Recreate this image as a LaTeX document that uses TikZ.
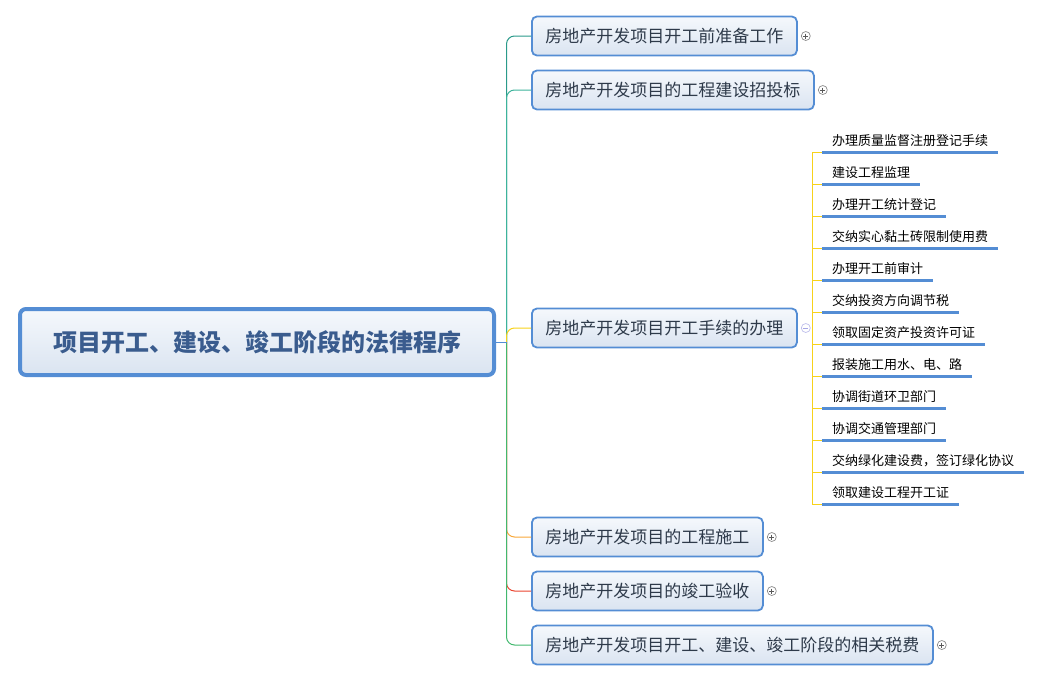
\documentclass[tikz,border=0pt]{standalone}
\usepackage{fontspec}
\newfontfamily\cjk{Noto Sans CJK SC}
\usetikzlibrary{positioning,calc}

\definecolor{boxline}{HTML}{548DD4}
\definecolor{boxtop}{HTML}{F5F8FC}
\definecolor{boxbot}{HTML}{DAE4F1}
\definecolor{roottext}{HTML}{3A5C8E}
\definecolor{branchtext}{HTML}{2E3A4A}
\definecolor{linea}{HTML}{2A9A8A}
\definecolor{lineb}{HTML}{3DB39B}
\definecolor{linec}{HTML}{F7D21A}
\definecolor{lined}{HTML}{F8A83A}
\definecolor{linee}{HTML}{EA4530}
\definecolor{linef}{HTML}{42B86E}

\def\leafsep{32}

\begin{document}
\begin{tikzpicture}[x=1pt,y=-1pt]
    \tikzstyle{root}=[draw=boxline,line width=4pt,rounded corners=6pt,top color=boxtop,bottom color=boxbot,
        minimum width=474,minimum height=66,text=roottext,font=\cjk\bfseries\fontsize{24}{28}\selectfont]
    \tikzstyle{branch}=[draw=boxline,line width=1.8pt,rounded corners=5pt,top color=boxtop,bottom color=boxbot,
        anchor=west,inner xsep=13.5,minimum height=39,text=branchtext,font=\cjk\fontsize{17}{20}\selectfont]
    \tikzstyle{leaf}=[anchor=south west,inner xsep=10,inner ysep=0,minimum height=22.5,font=\cjk\fontsize{13}{15}\selectfont]
    \tikzstyle{underline}=[draw=boxline,line width=3pt]
    \tikzstyle{link}=[line width=1pt,rounded corners=8pt]
    \tikzstyle{expander}=[circle,draw=black!45,fill=white,minimum size=9,inner sep=0,line width=0.7pt,
        path picture={\draw[black!65,line width=0.8pt] ([xshift=2]path picture bounding box.west) -- ([xshift=-2]path picture bounding box.east)
            ([yshift=-2]path picture bounding box.north) -- ([yshift=2]path picture bounding box.south);}]
    \tikzstyle{collapser}=[circle,draw=black!30!blue!25,fill=white,minimum size=9,inner sep=0,line width=0.7pt,
        path picture={\draw[black!30!blue!35,line width=0.8pt] ([xshift=2]path picture bounding box.west) -- ([xshift=-2]path picture bounding box.east);}]

    \useasboundingbox (0,0) rectangle (1044,683);

    % Draw the central topic
    \node[root] (R) at (257,342) {项目开工、建设、竣工阶段的法律程序};
    \coordinate (J) at ($(R.east)+(10.5,0)$);

    % Draw the main branches
    \node[branch] (B-1) at (531,36) {房地产开发项目开工前准备工作};
    \node[branch] (B-2) at (531,90) {房地产开发项目的工程建设招投标};
    \node[branch] (B-3) at (531,328) {房地产开发项目开工手续的办理};
    \node[branch] (B-4) at (531,537) {房地产开发项目的工程施工};
    \node[branch] (B-5) at (531,591) {房地产开发项目的竣工验收};
    \node[branch] (B-6) at (531,645) {房地产开发项目开工、建设、竣工阶段的相关税费};

    % Connect the central topic with every branch
    \draw[link,linea] (J) |- (B-1.west);
    \draw[link,lineb] (J) |- (B-2.west);
    \draw[link,linec] (J) |- (B-3.west);
    \draw[link,lined] (J) |- (B-4.west);
    \draw[link,linee] (J) |- (B-5.west);
    \draw[link,linef] (J) |- (B-6.west);
    \draw[boxline,line width=1pt] (R.east) -- (J);

    % Draw the folded markers
    \foreach \name in {1,2,4,5,6}
        \node[expander] (P-\name) at ($(B-\name.east)+(8,0)$) {};
    \node[collapser] (P-3) at ($(B-3.east)+(8,0)$) {};

    % Draw the leaves of the third branch
    \coordinate (K) at (812.5,328);
    \foreach \name / \t in {1/办理质量监督注册登记手续,2/建设工程监理,3/办理开工统计登记,
            4/交纳实心黏土砖限制使用费,5/办理开工前审计,6/交纳投资方向调节税,
            7/领取固定资产投资许可证,8/报装施工用水、电、路,9/协调街道环卫部门,
            10/协调交通管理部门,11/交纳绿化建设费，签订绿化协议,12/领取建设工程开工证}
    {
        \node[leaf] (C-\name) at (822,152+\leafsep*\name-\leafsep) {\t};
        \draw[linec,line width=1pt] (K) |- (C-\name.south west);
        \draw[underline] (C-\name.south west) -- (C-\name.south east);
    }
\end{tikzpicture}
\end{document}
